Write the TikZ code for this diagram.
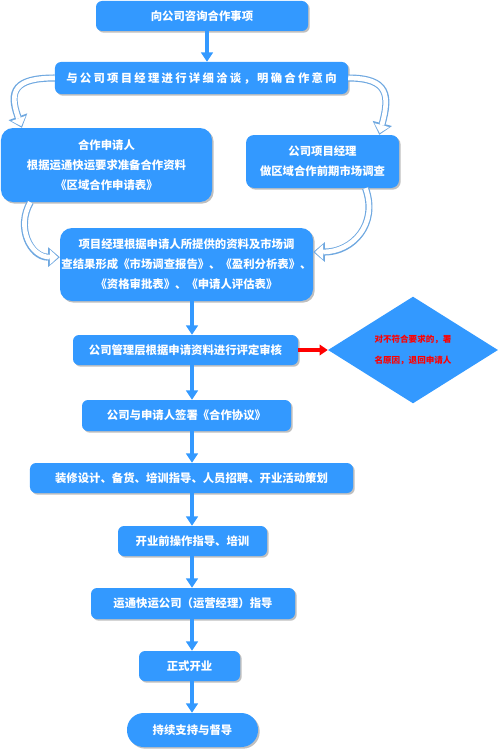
\documentclass[tikz,border=0pt]{standalone}
\usepackage{fontspec}
\setmainfont{Noto Sans CJK SC}
\newfontfamily\widefont{Noto Sans CJK SC}[LetterSpace=20]
\usetikzlibrary{arrows.meta,shapes.geometric,shadows,calc}
\definecolor{boxblue}{HTML}{3399FF}
\definecolor{curveblue}{HTML}{6FA8E0}
\tikzset{
    stepbox/.style={fill=boxblue, text=white, align=center, inner sep=0pt,
        rounded corners=0.18cm, font=\bfseries\fontsize{9.7pt}{17pt}\selectfont,
        drop shadow={shadow xshift=0.05cm, shadow yshift=-0.05cm, fill=black, opacity=0.25}},
    flow/.style={draw=boxblue, line width=3.5pt, -{Triangle[length=8pt,width=10pt]}},
    rejectflow/.style={draw=red, line width=3.7pt, -{Triangle[length=7pt,width=9pt]}},
    curved/.style={draw=curveblue, line width=6pt, -{Triangle[length=10pt,width=17pt,line width=0pt]},
        postaction={draw=white, line width=4pt, shorten >=1.5pt, -{Triangle[length=7pt,width=13pt,line width=0pt]}}},
}
\begin{document}
\begin{tikzpicture}[x=0.3mm,y=0.3mm]
\useasboundingbox (0,0) rectangle (500,-750);
\coordinate (spine) at (192,0);
\node[stepbox, minimum width=6.36cm, minimum height=0.9cm] (consult) at (202,-16) {向公司咨询合作事项};
\node[stepbox, minimum width=8.79cm, minimum height=0.96cm] (talk) at (201.5,-78) {\widefont\bfseries 与公司项目经理进行详细洽谈，明确合作意向};
\node[stepbox, rounded corners=0.36cm, minimum width=6.33cm, minimum height=2.22cm] (applicant) at (106.5,-165) {合作申请人\\根据运通快运要求准备合作资料\\《区域合作申请表》};
\node[stepbox, rounded corners=0.24cm, minimum width=4.59cm, minimum height=1.59cm] (survey) at (322.5,-161.5) {公司项目经理\\做区域合作前期市场调查};
\node[stepbox, rounded corners=0.36cm, minimum width=7.59cm, minimum height=2.19cm] (report) at (186.5,-264.5) {项目经理根据申请人所提供的资料及市场调\\查结果形成《市场调查报告》、《盈利分析表》、\\《资格审批表》、《申请人评估表》};
\node[stepbox, minimum width=6.75cm, minimum height=0.9cm] (review) at (185.5,-350) {公司管理层根据申请资料进行评定审核};
\node[diamond, fill=boxblue, text=red, align=center, inner sep=0pt, minimum width=5.1cm, minimum height=2.52cm,
    font=\bfseries\fontsize{7.3pt}{18pt}\selectfont] (reject) at (413,-350) {对不符合要求的，署\\名原因，退回申请人};
\node[stepbox, minimum width=6.27cm, minimum height=0.93cm] (sign) at (186.5,-415.5) {公司与申请人签署《合作协议》};
\node[stepbox, minimum width=9.69cm, minimum height=0.9cm] (prepare) at (191.5,-478) {装修设计、备货、培训指导、人员招聘、开业活动策划};
\node[stepbox, minimum width=4.47cm, minimum height=0.9cm] (train) at (192.5,-541) {开业前操作指导、培训};
\node[stepbox, minimum width=6.12cm, minimum height=0.93cm] (guide) at (193,-603.5) {运通快运公司（运营经理）指导};
\node[stepbox, minimum width=3.03cm, minimum height=0.9cm] (opening) at (189.5,-666) {正式开业};
\node[stepbox, rounded corners=0.5cm, minimum width=3.93cm, minimum height=1.02cm] (support) at (192.5,-730) {持续支持与督导};

\draw[flow] ([xshift=0.15cm]consult.south) -- ([xshift=0.15cm]consult.south |- talk.north);
\draw[curved] (talk.west) to[out=180,in=110,looseness=1.7] ($(applicant.north west)!0.1!(applicant.north east)$);
\draw[curved] (talk.east) to[out=0,in=75,looseness=1.6] ($(survey.north west)!0.87!(survey.north east)$);
\draw[curved] ($(applicant.south west)!0.14!(applicant.south east)$) to[out=240,in=180,looseness=1.2] ($(report.north west)!0.4!(report.south west)$);
\draw[curved] ($(survey.south west)!0.78!(survey.south east)$) to[out=-70,in=0,looseness=1.2] ($(report.north east)!0.33!(report.south east)$);
\draw[flow] (report.south -| spine) -- (review.north -| spine);
\draw[rejectflow] (review.east) -- (reject.west);
\draw[flow] (review.south -| spine) -- (sign.north -| spine);
\draw[flow] (sign.south -| spine) -- (prepare.north -| spine);
\draw[flow] (prepare.south -| spine) -- (train.north -| spine);
\draw[flow] (train.south -| spine) -- (guide.north -| spine);
\draw[flow] (guide.south -| spine) -- (opening.north -| spine);
\draw[flow] (opening.south -| spine) -- (support.north -| spine);
\end{tikzpicture}
\end{document}
